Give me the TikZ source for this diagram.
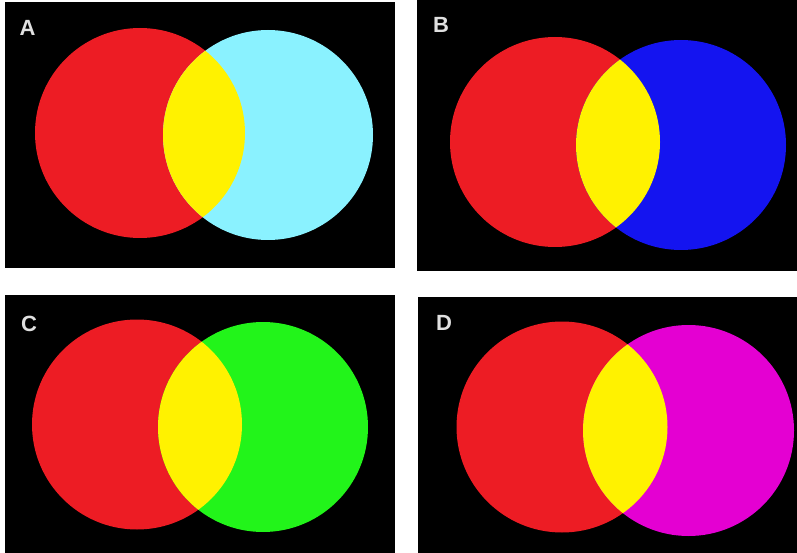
\documentclass[tikz,border=0pt]{standalone}
\usepackage{fontspec}
\setmainfont{Liberation Sans}
\definecolor{vred}{HTML}{ED1C24}
\definecolor{vyellow}{HTML}{FFF200}
\definecolor{vcyan}{HTML}{8AF2FF}
\definecolor{vblue}{HTML}{1414F0}
\definecolor{vgreen}{HTML}{22F41A}
\definecolor{vmagenta}{HTML}{E400D2}
\definecolor{lbl}{HTML}{E0E0E0}
\tikzset{
  panel/.style={fill=black},
  plabel/.style={text=lbl, font=\fontsize{22}{22}\selectfont\bfseries, inner sep=0pt, anchor=center},
}
\newcommand{\venn}[7]{%
  % #1 red cx, #2 red cy, #3 other cx, #4 other cy, #5 radius, #6 colour
  \fill[vred] (#1,#2) circle[radius=#5];
  \fill[#6] (#3,#4) circle[radius=#5];
  \begin{scope}
    \clip (#1,#2) circle[radius=#5];
    \fill[vyellow] (#3,#4) circle[radius=#5];
  \end{scope}
}
\begin{document}
\begin{tikzpicture}[x=1pt,y=-1pt]
  \fill[white] (0,0) rectangle (797,553);
  \useasboundingbox (0,0) rectangle (797,553);
  % panels
  \fill[panel] (5,2) rectangle (395,268);
  \fill[panel] (417,0) rectangle (797,271);
  \fill[panel] (5,295) rectangle (395,553);
  \fill[panel] (418,297) rectangle (797,553);
  % circles
  \venn{140}{133}{268}{135}{105}{vcyan}{}
  \venn{555}{142}{681}{145}{105}{vblue}{}
  \venn{137}{424.5}{263}{427}{105}{vgreen}{}
  \venn{562}{427}{688.5}{430.5}{105.5}{vmagenta}{}
  % labels
  \node[plabel] (la) at (27.5,28) {A};
  \node[plabel] (lb) at (441,25) {B};
  \node[plabel] (lc) at (29,324) {C};
  \node[plabel] (ld) at (444,322.5) {D};
\end{tikzpicture}
\end{document}
